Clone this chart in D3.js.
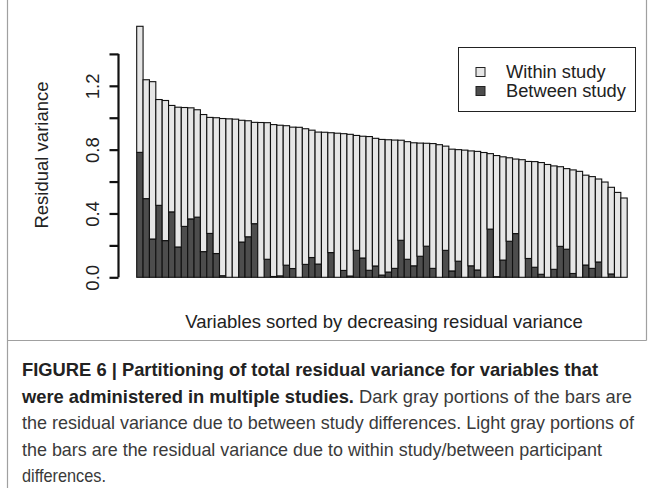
<!DOCTYPE html>
<html>
<head>
<meta charset="utf-8">
<script src="https://cdn.jsdelivr.net/npm/d3@7"></script>
<style>
  html, body { margin: 0; padding: 0; background: #fff; }
  svg { display: block; }
  text { font-family: "Liberation Sans", Arial, sans-serif; }
</style>
</head>
<body>
<svg id="chart" width="654" height="488"></svg>
<script>
// ---- data ----
const variables = d3.range(1, 78).map(i => "V" + i);
const betweenStudy = [
  0.783, 0.493, 0.240, 0.451, 0.230, 0.410, 0.190, 0.319, 0.366, 0.377,
  0.161, 0.275, 0.149, 0.010, 0.000, 0.000, 0.221, 0.254, 0.336, 0.000,
  0.113, 0.005, 0.009, 0.076, 0.055, 0.000, 0.081, 0.124, 0.083, 0.000,
  0.155, 0.000, 0.043, 0.008, 0.169, 0.121, 0.044, 0.071, 0.014, 0.033,
  0.056, 0.232, 0.113, 0.072, 0.132, 0.195, 0.056, 0.000, 0.169, 0.040,
  0.101, 0.000, 0.072, 0.046, 0.000, 0.302, 0.004, 0.108, 0.226, 0.274,
  0.000, 0.118, 0.063, 0.019, 0.000, 0.050, 0.194, 0.176, 0.024, 0.000,
  0.077, 0.056, 0.096, 0.000, 0.021, 0.000, 0.000
];
const withinStudy = [
  0.790, 0.745, 0.986, 0.663, 0.878, 0.667, 0.876, 0.745, 0.696, 0.673,
  0.859, 0.727, 0.851, 0.985, 0.993, 0.991, 0.763, 0.727, 0.635, 0.970,
  0.856, 0.952, 0.944, 0.874, 0.886, 0.940, 0.850, 0.798, 0.827, 0.909,
  0.751, 0.903, 0.857, 0.888, 0.720, 0.763, 0.838, 0.800, 0.850, 0.829,
  0.804, 0.627, 0.737, 0.771, 0.709, 0.645, 0.782, 0.831, 0.653, 0.763,
  0.699, 0.797, 0.720, 0.743, 0.782, 0.473, 0.759, 0.647, 0.523, 0.467,
  0.737, 0.608, 0.662, 0.700, 0.707, 0.648, 0.499, 0.505, 0.649, 0.664,
  0.563, 0.575, 0.520, 0.597, 0.543, 0.532, 0.497
];
const seriesNames = ["Between study", "Within study"];
const yTicks = [0, 0.2, 0.4, 0.6, 0.8, 1.0, 1.2, 1.4];
const yTickLabels = ["0.0", "", "0.4", "", "0.8", "", "1.2", ""];
const xTitle = "Variables sorted by decreasing residual variance";
const yTitle = "Residual variance";
const captionLines = [
  [{b:true, t:"FIGURE 6 | Partitioning of total residual variance for variables that"}],
  [{b:true, t:"were administered in multiple studies."}, {b:false, t:" Dark gray portions of the bars are"}],
  [{b:false, t:"the residual variance due to between study differences. Light gray portions of"}],
  [{b:false, t:"the bars are the residual variance due to within study/between participant"}],
  [{b:false, t:"differences."}]
];
const captionWidths = [576, 610, 612, 580, 84];

// ---- build table ----
const rows = variables.map((v, i) => ({ name: v, between: betweenStudy[i], within: withinStudy[i] }));
const stack = d3.stack().keys(["between", "within"])(rows);
const colors = { between: "#4d4d4d", within: "#e6e6e6" };

const svg = d3.select("#chart");

// frame
svg.append("path")
  .attr("d", "M7.5,0 L7.5,488 M646.5,0 L646.5,340.5 M7.5,340.5 L646.5,340.5")
  .attr("fill", "none").attr("stroke", "#a0a0a0").attr("stroke-width", 1.2);

const x = d3.scaleBand().domain(variables).range([136.7, 627.2]).padding(0);
const y = d3.scaleLinear().domain([0, 1.4]).range([277.3, 53.9]);

// bars
const g = svg.append("g");
stack.forEach(layer => {
  g.append("g").selectAll("rect").data(layer).join("rect")
    .attr("x", d => x(d.data.name))
    .attr("width", x.bandwidth())
    .attr("y", d => y(d[1]))
    .attr("height", d => Math.max(0, y(d[0]) - y(d[1])))
    .attr("fill", colors[layer.key])
    .attr("stroke", "#111")
    .attr("stroke-width", 1.1);
});

// y axis
const yAxis = d3.axisLeft(y).tickValues(yTicks).tickSize(9).tickPadding(6)
  .tickFormat((d, i) => yTickLabels[i]);
const ya = svg.append("g").attr("transform", "translate(118.5,0)").call(yAxis);
ya.select(".domain").attr("stroke", "#111").attr("stroke-width", 2.2)
  .attr("d", `M0,${y(0)}V${y(1.4)}`);
ya.selectAll(".tick line").attr("stroke", "#111").attr("stroke-width", 2.2);
ya.selectAll(".tick text")
  .attr("font-size", 18.5).attr("fill", "#222")
  .attr("text-anchor", "middle")
  .attr("transform", `translate(-20,0) rotate(-90)`)
  .attr("x", 0).attr("y", 0).attr("dy", "0");

// axis titles
svg.append("text").attr("transform", `translate(42,155) rotate(-90)`)
  .attr("text-anchor", "middle").attr("dy", "0.35em")
  .attr("font-size", 18.5).attr("fill", "#222").text(yTitle);
svg.append("text").attr("x", 384).attr("y", 328)
  .attr("text-anchor", "middle").attr("font-size", 18.5).attr("fill", "#222").text(xTitle);

// legend
const lg = svg.append("g");
lg.append("rect").attr("x", 458.5).attr("y", 47.5).attr("width", 177).attr("height", 64)
  .attr("fill", "#fff").attr("stroke", "#222").attr("stroke-width", 1);
const legendItems = [["within", "Within study"], ["between", "Between study"]];
legendItems.forEach(([k, label], i) => {
  const cy = 72 + i * 19;
  lg.append("rect").attr("x", 476).attr("y", cy - 4.5).attr("width", 9).attr("height", 9)
    .attr("fill", colors[k]).attr("stroke", "#222").attr("stroke-width", 1);
  lg.append("text").attr("x", 506).attr("y", cy).attr("dy", "0.35em")
    .attr("font-size", 18.3).attr("fill", "#222").text(label);
});

// caption
captionLines.forEach((parts, i) => {
  const t = svg.append("text").attr("x", 22).attr("y", 376 + i * 26.5)
    .attr("font-size", 18.5).attr("fill", "#333")
    .attr("textLength", captionWidths[i]).attr("lengthAdjust", "spacingAndGlyphs");
  parts.forEach(p => {
    t.append("tspan").attr("font-weight", p.b ? "bold" : "normal")
      .attr("fill", p.b ? "#222" : "#3a3a3a").text(p.t);
  });
});
</script>
</body>
</html>
